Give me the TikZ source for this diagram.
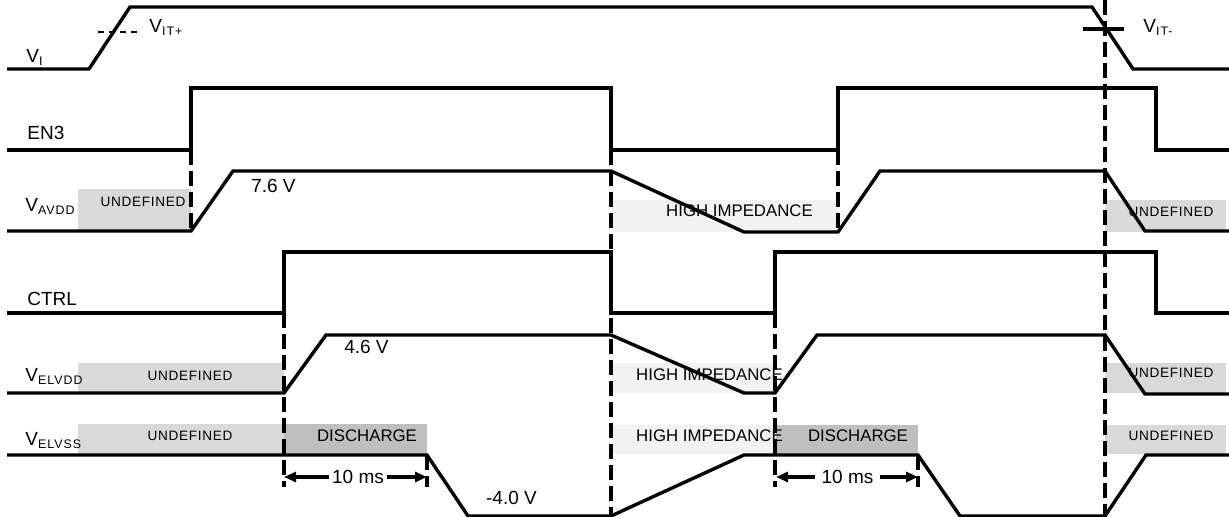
\documentclass[tikz,border=0pt]{standalone}
\usepackage{fontspec}
\setmainfont{Liberation Sans}
\newfontfamily\widefont[LetterSpace=5]{Liberation Sans}
\newfontfamily\subfont[LetterSpace=8]{Liberation Sans}
\usetikzlibrary{arrows.meta}
\definecolor{undefgray}{HTML}{D9D9D9}
\definecolor{hizgray}{HTML}{F2F2F2}
\definecolor{dischgray}{HTML}{BFBFBF}
\newcommand{\Vsub}[1]{V\raisebox{-1.5pt}{\subfont\fontsize{6.2}{6.2}\selectfont #1}}
\tikzset{
  wave/.style={line width=1.7pt},
  guide/.style={line width=1.6pt, dash pattern=on 7.5pt off 3pt},
  lab/.style={anchor=base west, inner sep=0pt, font=\fontsize{9.5}{9.5}\selectfont},
  val/.style={anchor=base, inner sep=0pt, font=\fontsize{9.5}{9.5}\selectfont},
  statetext/.style={anchor=base, inner sep=0pt, font=\fontsize{8.4}{8.4}\selectfont},
  undeftext/.style={anchor=base, inner sep=0pt, font=\widefont\fontsize{6.8}{6.8}\selectfont},
  dim/.style={line width=1.7pt, -{Triangle[length=6pt,width=5pt]}}
}
\begin{document}
\begin{tikzpicture}[x=0.5pt, y=-0.5pt]
\useasboundingbox (0,0) rectangle (1229,517);

\fill[undefgray] (78,189) rectangle (191,230);
\fill[hizgray] (612,200) rectangle (837,232);
\fill[undefgray] (1105,200) rectangle (1226,232);
\fill[undefgray] (78,363) rectangle (284,392);
\fill[hizgray] (612,363) rectangle (775,393);
\fill[undefgray] (1105,363) rectangle (1226,393);
\fill[undefgray] (78,424) rectangle (284,454);
\fill[dischgray] (284,424) rectangle (427,454);
\fill[hizgray] (612,425) rectangle (775,454);
\fill[dischgray] (776,425) rectangle (918,454);
\fill[undefgray] (1105,425) rectangle (1226,454);

\node (u1) at (143,207) [undeftext] {UNDEFINED};
\node (h1) at (739.5,217) [statetext] {HIGH IMPEDANCE};
\node (u2) at (1171,217) [undeftext] {UNDEFINED};
\node (u3) at (190,380) [undeftext] {UNDEFINED};
\node (h2) at (709.5,380) [statetext] {HIGH IMPEDANCE};
\node (u4) at (1171,378) [undeftext] {UNDEFINED};
\node (u5) at (190,440) [undeftext] {UNDEFINED};
\node (d1) at (367,441.5) [statetext] {DISCHARGE};
\node (h3) at (709.5,441) [statetext] {HIGH IMPEDANCE};
\node (d2) at (858,441.5) [statetext] {DISCHARGE};
\node (u6) at (1171,440) [undeftext] {UNDEFINED};

\node (vi) at (26,63) [lab] {\Vsub{I}};
\node (en) at (27,140) [lab] {EN3};
\node (avdd) at (25,212) [lab] {\Vsub{AVDD}};
\node (ctrl) at (27,306) [lab] {CTRL};
\node (elvdd) at (25,382) [lab] {\Vsub{ELVDD}};
\node (elvss) at (25,445) [lab] {\Vsub{ELVSS}};
\node (itp) at (149,33) [lab] {\Vsub{IT+}};
\node (itm) at (1143,33) [lab] {\Vsub{IT-}};

\node (v76) at (273.5,193) [val] {7.6 V};
\node (v46) at (366.5,354) [val] {4.6 V};
\node (v40) at (511.5,504) [val] {-4.0 V};

\draw[wave] (7,69) -- (89,69) -- (130,7) -- (1092,7) -- (1133,69) -- (1229,69);
\draw[wave] (7,150) -- (191,150) -- (191,88) -- (611,88) -- (611,150) -- (838,150) -- (838,88) -- (1156,88) -- (1156,150) -- (1229,150);
\draw[wave] (7,231) -- (191,231) -- (233,171) -- (611,171) -- (744,232) -- (838,232) -- (880,171) -- (1105,171) -- (1145,231) -- (1229,231);
\draw[wave] (7,313) -- (284,313) -- (284,252) -- (611,252) -- (611,313) -- (775,313) -- (775,252) -- (1156,252) -- (1156,313) -- (1229,313);
\draw[wave] (7,393) -- (284,393) -- (326,335) -- (611,335) -- (744,393) -- (775,393) -- (817,335) -- (1105,335) -- (1145,394) -- (1229,394);
\draw[wave] (7,455) -- (427,455) -- (468,516) -- (611,516) -- (744,455) -- (918,455) -- (960,516) -- (1105,516) -- (1146,455) -- (1229,455);

\draw[guide] (191,150) -- (191,231);
\draw[guide] (284,313) -- (284,487);
\draw[guide] (427,455) -- (427,487);
\draw[guide] (611,150) -- (611,516);
\draw[guide] (775,313) -- (775,487);
\draw[guide] (838,150) -- (838,232);
\draw[guide] (918,455) -- (918,487);
\draw[guide] (1105,0) -- (1105,517);

\draw[line width=1pt, dash pattern=on 3pt off 2.5pt] (98,32) -- (137,32);
\draw[wave] (1083,29) -- (1124,29);

\node (ms1) at (358,477) [val, anchor=center, inner xsep=1.5pt] {10 ms};
\coordinate (m1a) at (284,477);
\coordinate (m1b) at (427,477);
\draw[dim] (ms1.west) -- (m1a);
\draw[dim] (ms1.east) -- (m1b);

\node (ms2) at (847.5,477) [val, anchor=center, inner xsep=3pt] {10 ms};
\coordinate (m2a) at (776,477);
\coordinate (m2b) at (918,477);
\draw[dim] (ms2.west) -- (m2a);
\draw[dim] (ms2.east) -- (m2b);
\end{tikzpicture}
\end{document}
